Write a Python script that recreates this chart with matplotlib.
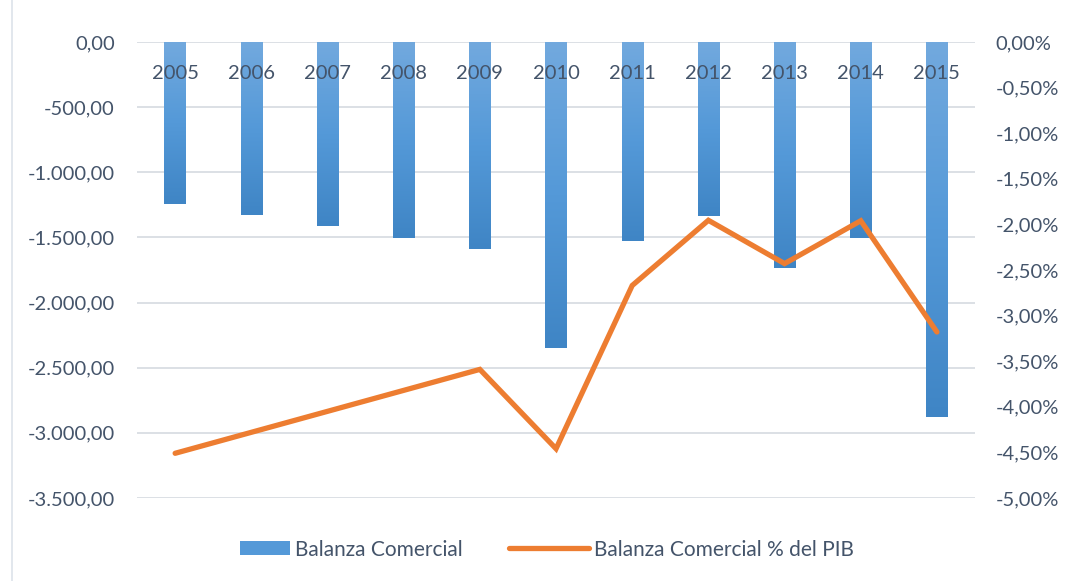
import numpy as np
import matplotlib
matplotlib.use("Agg")
import matplotlib.pyplot as plt
from matplotlib.colors import LinearSegmentedColormap
from matplotlib.lines import Line2D
from matplotlib.patches import Patch, Rectangle
from matplotlib.legend_handler import HandlerPatch
from matplotlib.ticker import FuncFormatter, MultipleLocator
import matplotlib.transforms as mtransforms

years = ["2005", "2006", "2007", "2008", "2009", "2010",
         "2011", "2012", "2013", "2014", "2015"]
balanza = [-1242, -1326, -1411, -1503, -1588, -2348,
           -1526, -1334, -1733, -1508, -2878]
balanza_pib = [-4.51, -4.28, -4.05, -3.82, -3.59, -4.46,
               -2.67, -1.955, -2.43, -1.96, -3.18]

text_color = "#44546a"
grid_color = "#d9dde3"
orange = "#ed7d31"
plt.rcParams["font.family"] = ["Lato", "DejaVu Sans"]


def fmt_left(v, pos):
    if abs(v) < 1e-9:
        v = 0.0
    s = f"{v:,.2f}"
    return s.replace(",", "X").replace(".", ",").replace("X", ".")


def fmt_right(v, pos):
    if abs(v) < 1e-9:
        v = 0.0
    return f"{v:.2f}%".replace(".", ",")


def short_patch(legend, orig_handle, xdescent, ydescent, width, height, fontsize):
    # narrower box than the line handle, right-aligned next to the text
    w = 36
    return Rectangle((-xdescent + width - w, -ydescent), w, height)


fig = plt.figure(figsize=(10.86, 5.81), dpi=100)
ax = fig.add_axes([0.1262, 0.1429, 0.7716, 0.7848])
ax2 = ax.twinx()

x = np.arange(len(years))
bar_w = 0.28
bars = ax.bar(x, balanza, width=bar_w, color="none", zorder=2)

# vertical gradient inside every bar, like the Excel fill
cmap = LinearSegmentedColormap.from_list("bar", ["#72a9de", "#5499d8", "#3f85c5"])
grad = np.linspace(0, 1, 256).reshape(-1, 1)
for b in bars:
    x0 = b.get_x()
    im = ax.imshow(grad, cmap=cmap, aspect="auto", origin="upper",
                   extent=[x0, x0 + b.get_width(), b.get_y() + b.get_height(), 0],
                   zorder=2)
    im.set_clip_path(b)

ax.set_xlim(-0.5, len(years) - 0.5)
ax.set_ylim(-3500, 0)
ax.yaxis.set_major_locator(MultipleLocator(500))
ax.yaxis.set_major_formatter(FuncFormatter(fmt_left))
ax.grid(axis="y", color=grid_color, linewidth=1.3)
ax.set_axisbelow(True)
ax.set_xticks([])
ax.tick_params(axis="y", length=0, pad=16, labelsize=14.5, labelcolor=text_color)

# year labels just under the zero line
trans = mtransforms.blended_transform_factory(ax.transData, ax.transAxes)
for xi, yr in zip(x, years):
    ax.text(xi, 0.930, yr, transform=trans, ha="center", va="center",
            fontsize=14.5, color=text_color, zorder=5)

ax2.plot(x, balanza_pib, color=orange, linewidth=3.8,
         solid_capstyle="round", solid_joinstyle="miter")
ax2.set_ylim(-5, 0)
ax2.yaxis.set_major_locator(MultipleLocator(0.5))
ax2.yaxis.set_major_formatter(FuncFormatter(fmt_right))
ax2.tick_params(axis="y", length=0, pad=15, labelsize=14.5, labelcolor=text_color)

for a in (ax, ax2):
    for s in a.spines.values():
        s.set_visible(False)

bar_handle = Patch(facecolor="#5499d8", edgecolor="none")
line_handle = Line2D([0], [0], color=orange, linewidth=3.8, solid_capstyle="round")
fig.legend([bar_handle, line_handle],
           ["Balanza Comercial", "Balanza Comercial % del PIB"],
           handler_map={bar_handle: HandlerPatch(patch_func=short_patch)},
           loc="center", bbox_to_anchor=(0.490, 0.054), ncol=2, frameon=False,
           fontsize=15, labelcolor=text_color, handlelength=3.85,
           handleheight=0.65, handletextpad=0.25, columnspacing=2.2)

# chart area border on the left
fig.add_artist(Line2D([12 / 1086, 12 / 1086], [0, 1], transform=fig.transFigure,
                      color="#dde3ea", linewidth=1.2))

fig.savefig("out.png", dpi=100)
